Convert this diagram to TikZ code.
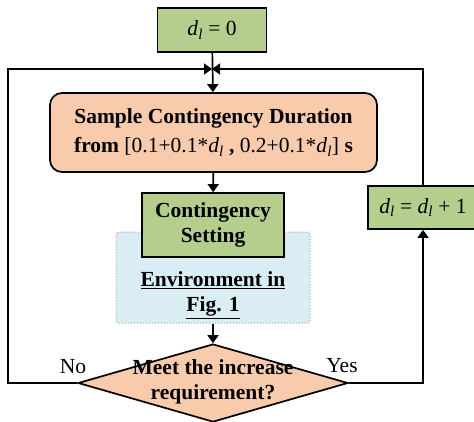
\documentclass[tikz,border=0pt]{standalone}
\usepackage{fontspec}
\setmainfont{Liberation Serif}
\usetikzlibrary{arrows.meta,shapes.geometric}

\definecolor{boxgreen}{RGB}{181,206,141}
\definecolor{boxpeach}{RGB}{248,203,173}
\definecolor{boxblue}{RGB}{218,236,244}
\newcommand{\dl}{\textnormal{\textit{d}\textsubscript{\textit{l}}}}

\begin{document}
\begin{tikzpicture}[x=1pt,y=-1pt,line width=1.7pt,
    >={Triangle[length=8pt,width=11pt]},
    every node/.style={font=\fontsize{21.5}{25}\selectfont,align=center},
    greenbox/.style={draw,fill=boxgreen,inner sep=0pt},
    bold/.style={font=\fontsize{21.5}{25}\selectfont\bfseries}]
\clip (0,0) rectangle (474,421);
% blocks
\node[greenbox,minimum width=109pt,minimum height=44pt] (start) at (212,30) {\dl{} = 0};
\node[greenbox,fill=boxpeach,rounded corners=12pt,minimum width=327pt,minimum height=79pt,
    bold,font=\fontsize{21.5}{29}\selectfont\bfseries] (sample) at (213.5,132.5)
    {Sample Contingency Duration\\from \textnormal{[0.1+0.1*\dl} , \textnormal{0.2+0.1*\dl]} s};
\node[draw=gray!70,dotted,line width=1pt,fill=boxblue,rounded corners=3pt,
    minimum width=194pt,minimum height=91pt] (env) at (213,277.5) {};
\node[bold] (envtxt) at (213,295) {\underline{Environment in}\\\underline{Fig. 1}};
\node[greenbox,bold,minimum width=142pt,minimum height=64pt] (setting) at (213,225) {Contingency\\Setting};
\node[draw,diamond,fill=boxpeach,inner sep=0pt,minimum width=270pt,minimum height=78pt] (check) at (213,383) {};
\node[bold] (checktxt) at (213,382) {Meet the increase\\requirement?};
\node[greenbox,minimum width=110pt,minimum height=43pt] (incr) at (423,207.5) {\dl{} = \dl{} + 1};

% loop back coordinates
\coordinate (merge) at (212,69);
\coordinate (lefttop) at (8,69);
\coordinate (leftbot) at (8,383);
\coordinate (righttop) at (423,69);
\coordinate (rightbot) at (423,383);

% connectors
\draw[->] (start) -- (sample);
\draw[->] (sample) -- (setting);
\draw[->] (env) -- (check);
\draw[->] (check.west) -- (leftbot) -- (lefttop) -- (merge);
\draw[->] (check.east) -- (rightbot) -- (incr);
\draw[->] (incr) -- (righttop) -- (merge);

\node (no) at (73,367) {No};
\node (yes) at (342,366) {Yes};
\end{tikzpicture}
\end{document}
